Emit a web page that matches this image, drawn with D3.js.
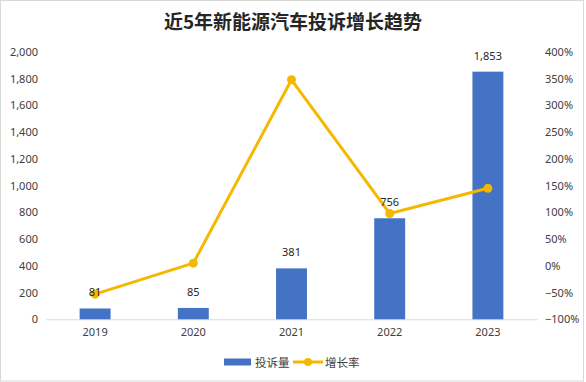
<!DOCTYPE html>
<html><head><meta charset="utf-8">
<script src="https://cdn.jsdelivr.net/npm/d3@7"></script>
<style>
html,body{margin:0;padding:0;background:#fff;}
svg{display:block;}
text{font-family:"Noto Sans","Noto Sans CJK SC",sans-serif;}
</style></head>
<body>
<svg id="chart" width="586" height="382"></svg>
<script>
const categories = ["2019","2020","2021","2022","2023"];
const complaints = [81, 85, 381, 756, 1853];
const growthRate = [-0.53, 0.05, 3.48, 0.98, 1.45];
const leftTicks = [0,200,400,600,800,1000,1200,1400,1600,1800,2000];
const rightTicks = [-1,-0.5,0,0.5,1,1.5,2,2.5,3,3.5,4];
const title = "近5年新能源汽车投诉增长趋势";
const seriesNames = ["投诉量","增长率"];

const svg = d3.select("#chart");
const W = 586, H = 382;
const m = {left:46, right:49, top:52, bottom:62.7};
const barColor = "#4472C4", lineColor = "#F5B800";

svg.append("rect").attr("x",0.5).attr("y",0.5).attr("width",W-3).attr("height",H-1.5)
  .attr("fill","#fff").attr("stroke","#d9d9d9");

const x = d3.scaleBand().domain(categories).range([m.left, W-m.right]).paddingInner(0.685).paddingOuter(0.3425);
const yL = d3.scaleLinear().domain([0,2000]).range([H-m.bottom, m.top]);
const yR = d3.scaleLinear().domain([-1,4]).range([H-m.bottom, m.top]);

svg.append("text").attr("x",293).attr("y",29).attr("text-anchor","middle")
  .style("font-family","'Noto Sans CJK SC',sans-serif").style("font-weight","700")
  .style("font-size","19px").attr("fill","#262626").text(title);

// left axis
const axL = svg.append("g").attr("transform",`translate(${m.left-8},0)`)
  .call(d3.axisLeft(yL).tickValues(leftTicks).tickSize(0).tickPadding(0).tickFormat(d3.format(",")));
axL.select(".domain").remove();
axL.selectAll("text").style("font-size","11px").attr("fill","#404040");

// right axis
const axR = svg.append("g").attr("transform",`translate(${W-m.right+8},0)`)
  .call(d3.axisRight(yR).tickValues(rightTicks).tickSize(0).tickPadding(0).tickFormat(d3.format(".0%")));
axR.select(".domain").remove();
axR.selectAll("text").style("font-size","11px").attr("fill","#404040");

// x axis
const axX = svg.append("g").attr("transform",`translate(0,${yL(0)})`)
  .call(d3.axisBottom(x).tickSize(0).tickPadding(9));
axX.select(".domain").attr("stroke","#d9d9d9");
axX.selectAll("text").style("font-size","11px").attr("fill","#404040");

// bars
svg.selectAll("rect.bar").data(complaints).enter().append("rect").attr("class","bar")
  .attr("x",(d,i)=>x(categories[i])).attr("width",x.bandwidth())
  .attr("y",d=>yL(d)).attr("height",d=>yL(0)-yL(d)).attr("fill",barColor);

// line
const line = d3.line().x((d,i)=>x(categories[i])+x.bandwidth()/2).y(d=>yR(d));
svg.append("path").datum(growthRate).attr("d",line).attr("fill","none")
  .attr("stroke",lineColor).attr("stroke-width",3).attr("stroke-linejoin","round");
svg.selectAll("circle.pt").data(growthRate).enter().append("circle").attr("class","pt")
  .attr("cx",(d,i)=>x(categories[i])+x.bandwidth()/2).attr("cy",d=>yR(d)).attr("r",4.5).attr("fill",lineColor);

// bar labels
svg.selectAll("text.lbl").data(complaints).enter().append("text").attr("class","lbl")
  .attr("x",(d,i)=>x(categories[i])+x.bandwidth()/2).attr("y",d=>yL(d)-12)
  .attr("text-anchor","middle").style("font-size","11px").attr("fill","#262626")
  .text(d=>d3.format(",")(d));

// legend
const lg = svg.append("g");
lg.append("rect").attr("x",224).attr("y",358.5).attr("width",27).attr("height",7).attr("fill",barColor);
lg.append("text").attr("x",255).attr("y",366.5).style("font-family","'Noto Sans CJK SC',sans-serif").style("font-size","11.5px").attr("fill","#404040").text(seriesNames[0]);
lg.append("line").attr("x1",293).attr("x2",323).attr("y1",362).attr("y2",362).attr("stroke",lineColor).attr("stroke-width",3);
lg.append("circle").attr("cx",308).attr("cy",362).attr("r",4).attr("fill",lineColor);
lg.append("text").attr("x",325).attr("y",366.5).style("font-family","'Noto Sans CJK SC',sans-serif").style("font-size","11.5px").attr("fill","#404040").text(seriesNames[1]);
</script>
</body></html>
